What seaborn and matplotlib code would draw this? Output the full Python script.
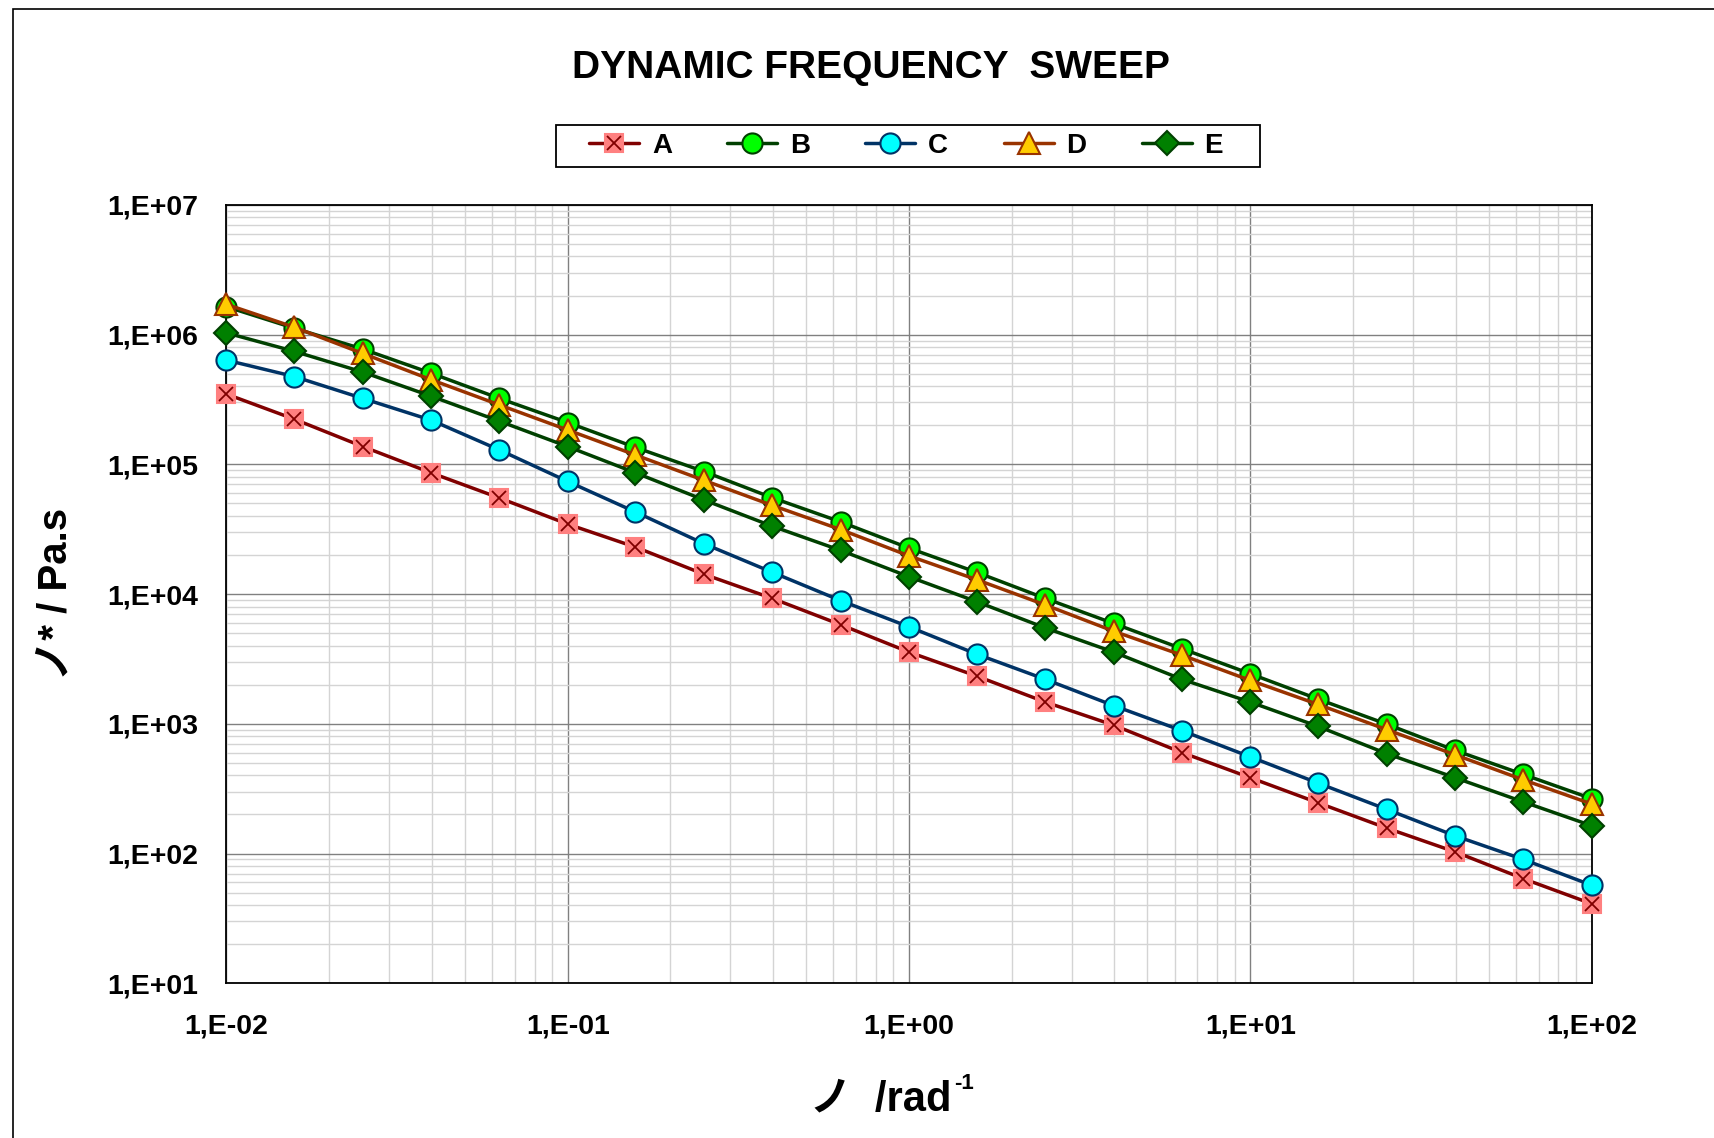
import numpy as np
import pandas as pd
import matplotlib
matplotlib.use("Agg")
import matplotlib.pyplot as plt
import seaborn as sns
from matplotlib.ticker import FixedLocator, FuncFormatter, LogLocator, NullFormatter
from matplotlib.lines import Line2D
from matplotlib.legend_handler import HandlerTuple
from matplotlib.patches import Rectangle

# ---- data ----
freq = [0.01, 0.0158, 0.0251, 0.0398, 0.0631, 0.1, 0.158, 0.251, 0.398, 0.631,
        1.0, 1.58, 2.51, 3.98, 6.31, 10.0, 15.8, 25.1, 39.8, 63.1, 100.0]
series_A = [3.48e5, 2.23e5, 1.37e5, 8.6e4, 5.5e4, 3.46e4, 2.3e4, 1.42e4, 9.25e3, 5.8e3,
            3.57e3, 2.33e3, 1.47e3, 975, 600, 384, 246, 157, 103, 64, 41]
series_B = [1.64e6, 1.12e6, 7.73e5, 5.04e5, 3.22e5, 2.1e5, 1.35e5, 8.79e4, 5.52e4, 3.6e4,
            2.26e4, 1.47e4, 9.25e3, 5.93e3, 3.79e3, 2.43e3, 1.55e3, 994, 624, 407, 265]
series_C = [6.35e5, 4.75e5, 3.22e5, 2.19e5, 1.29e5, 7.38e4, 4.29e4, 2.44e4, 1.47e4, 8.9e3,
            5.59e3, 3.44e3, 2.2e3, 1.38e3, 885, 556, 349, 219, 137, 90, 57]
series_D = [1.71e6, 1.14e6, 7.15e5, 4.49e5, 2.87e5, 1.84e5, 1.18e5, 7.52e4, 4.82e4, 3.14e4,
            1.97e4, 1.29e4, 8.24e3, 5.17e3, 3.38e3, 2.16e3, 1.41e3, 902, 577, 370, 241]
series_E = [1.03e6, 7.43e5, 5.14e5, 3.35e5, 2.15e5, 1.37e5, 8.6e4, 5.31e4, 3.33e4, 2.17e4,
            1.36e4, 8.73e3, 5.48e3, 3.57e3, 2.2e3, 1.47e3, 955, 589, 384, 250, 164]
labels = ["A", "B", "C", "D", "E"]
x_ticks = [1e-2, 1e-1, 1e0, 1e1, 1e2]
y_ticks = [1e1, 1e2, 1e3, 1e4, 1e5, 1e6, 1e7]

title = "DYNAMIC FREQUENCY  SWEEP"
xlabel = "ノ  /rad"
xlabel_sup = "-1"
ylabel = "ノ* / Pa.s"

# ---- style ----
sns.set_style("white")
plt.rcParams['font.family'] = ['Liberation Sans', 'Noto Sans CJK JP', 'DejaVu Sans']
plt.rcParams['font.weight'] = 'bold'
for k in ['text.color', 'axes.labelcolor', 'xtick.color', 'ytick.color']:
    plt.rcParams[k] = 'black'

fig = plt.figure(figsize=(17.15, 11.38), dpi=100)
ax = fig.add_axes([0.132, 0.136, 0.796, 0.684])

styles = {
    "A": dict(color="#800000", marker="s", mfc="#FF8080", mec="#FF8080", ms=13.5),
    "B": dict(color="#004000", marker="o", mfc="#00FF00", mec="#004000", ms=14.5),
    "C": dict(color="#003366", marker="o", mfc="#00FFFF", mec="#003366", ms=14.5),
    "D": dict(color="#993300", marker="^", mfc="#FFCC00", mec="#993300", ms=16.5),
    "E": dict(color="#004000", marker="D", mfc="#008000", mec="#004000", ms=12),
}
data = dict(zip(labels, [series_A, series_B, series_C, series_D, series_E]))

handles = []
for i, lab in enumerate(labels):
    st = styles[lab]
    df = pd.DataFrame({"freq": freq, "val": data[lab]})
    sns.lineplot(data=df, x="freq", y="val", ax=ax, color=st["color"], linewidth=2.5,
                 marker=st["marker"], markerfacecolor=st["mfc"], markeredgecolor=st["mec"],
                 markeredgewidth=1.5, markersize=st["ms"], zorder=3 + i, legend=False,
                 clip_on=False)
    h = Line2D([], [], color=st["color"], linewidth=2.5, marker=st["marker"],
               markerfacecolor=st["mfc"], markeredgecolor=st["mec"], markeredgewidth=1.5,
               markersize=st["ms"])
    if lab == "A":
        sns.lineplot(data=df, x="freq", y="val", ax=ax, color="#800000", linestyle="none",
                     marker="x", markersize=10, markeredgewidth=1.3,
                     markeredgecolor="#800000", zorder=3.5, legend=False, clip_on=False)
        hx = Line2D([], [], linestyle="none", marker="x", color="#800000",
                    markeredgecolor="#800000", markersize=10, markeredgewidth=1.3)
        handles.append((h, hx))
    else:
        handles.append(h)

ax.set_xscale("log")
ax.set_yscale("log")
ax.set_xlim(1e-2, 1e2)
ax.set_ylim(1e1, 1e7)

fmt = FuncFormatter(lambda v, p: "1,E%+03d" % int(round(np.log10(v))))
ax.xaxis.set_major_locator(FixedLocator(x_ticks))
ax.yaxis.set_major_locator(FixedLocator(y_ticks))
ax.xaxis.set_major_formatter(fmt)
ax.yaxis.set_major_formatter(fmt)
ax.xaxis.set_minor_locator(LogLocator(base=10, subs=np.arange(2, 10), numticks=20))
ax.yaxis.set_minor_locator(LogLocator(base=10, subs=np.arange(2, 10), numticks=20))
ax.xaxis.set_minor_formatter(NullFormatter())
ax.yaxis.set_minor_formatter(NullFormatter())

ax.grid(True, which="major", color="#808080", linewidth=1.0, zorder=0)
ax.grid(True, which="minor", color="#D4D4D4", linewidth=1.0, zorder=0)
ax.set_axisbelow(True)
ax.tick_params(axis="both", which="major", labelsize=20.5, direction="in", length=6, width=1,
               color="#404040", labelcolor="black")
ax.tick_params(axis="both", which="minor", direction="in", length=5, width=1, color="#606060")
ax.tick_params(axis="x", which="major", pad=22)
ax.tick_params(axis="y", which="major", pad=20)
for lbl in ax.get_xticklabels() + ax.get_yticklabels():
    lbl.set_fontweight("bold")
for s in ax.spines.values():
    s.set_color("black")
    s.set_linewidth(1.3)

ax.set_xlabel("")
ax.set_ylabel(ylabel, fontsize=29, fontweight="bold", labelpad=24)
# x label: main text right-aligned before the superscript
fig.text(952 / 1715, 1 - 1110 / 1138, xlabel, ha="right", va="baseline",
         fontsize=30, fontweight="bold")
fig.text(954 / 1715, 1 - 1089 / 1138, xlabel_sup, ha="left", va="baseline",
         fontsize=16, fontweight="bold")

fig.text(0.508, 0.940, title, ha="center", va="center", fontsize=28, fontweight="bold")

# legend frame drawn as a fixed box, entries centred inside it
fig.patches.append(Rectangle((556 / 1715, 1 - 167 / 1138), 704 / 1715, 42 / 1138,
                             transform=fig.transFigure, fill=True, facecolor="white",
                             edgecolor="black", linewidth=1.3, figure=fig, zorder=1))
leg = fig.legend(handles, labels, loc="center", bbox_to_anchor=(906 / 1715, 1 - 146 / 1138),
                 ncol=5, frameon=False, handlelength=1.8, columnspacing=2.0,
                 handletextpad=0.45, borderpad=0.2, prop={"weight": "bold", "size": 20},
                 handler_map={tuple: HandlerTuple(ndivide=1)})
leg.set_zorder(5)

fig.patches.append(Rectangle((13 / 1715, -0.1), 1.5, 1.1 - 9 / 1138,
                             transform=fig.transFigure, fill=False, edgecolor="black",
                             linewidth=1.2, figure=fig))

fig.savefig("out.png", dpi=100)
